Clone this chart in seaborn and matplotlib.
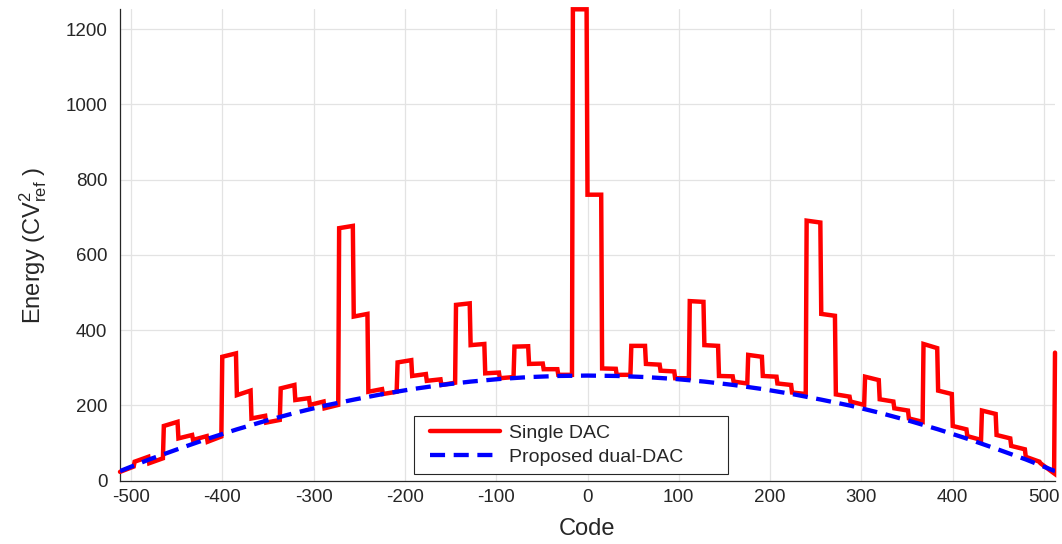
import numpy as np
import pandas as pd
import matplotlib
matplotlib.use("Agg")
import matplotlib.pyplot as plt
from matplotlib.lines import Line2D
from matplotlib.legend_handler import HandlerLine2D
import seaborn as sns

# Single-DAC switching energy: one level per 16-code segment (value at the
# first and at the last code of each segment), from code -512 up to 511.
single_seg_first = [23, 50, 46, 145, 112, 108, 103, 329, 227, 165, 154, 245, 214, 201, 192, 671,
                    436, 236, 230, 314, 278, 265, 254, 467, 360, 285, 272, 356, 310, 296, 281, 1253,
                    760, 298, 281, 358, 310, 292, 272, 477, 360, 278, 263, 334, 278, 258, 234, 691,
                    443, 229, 210, 276, 216, 192, 165, 363, 239, 145, 118, 186, 121, 92, 63, 46]
single_seg_last = [37, 63, 59, 156, 121, 118, 117, 338, 239, 172, 161, 254, 219, 210, 201, 677,
                   443, 243, 236, 320, 283, 269, 260, 471, 363, 287, 275, 357, 311, 296, 281, 1253,
                   760, 297, 281, 358, 308, 290, 272, 475, 358, 277, 258, 329, 276, 254, 230, 686,
                   438, 223, 201, 267, 210, 186, 156, 352, 230, 136, 108, 177, 112, 83, 50, 19]
single_last_code_energy = 340  # code +512

# Proposed dual-DAC energy, sampled every 32 codes from -512 to 512
dual_energy = [25, 56, 84, 111, 136, 159, 180, 199, 215, 230, 243, 254, 263, 270, 275, 278, 279,
               278, 275, 270, 263, 254, 243, 230, 215, 199, 180, 159, 136, 111, 84, 56, 25]

x_ticks = list(range(-500, 501, 100))
y_ticks = list(range(0, 1201, 200))

# ---- build tidy frames -------------------------------------------------
seg_start = -512 + 16 * np.arange(len(single_seg_first))
single_codes = np.column_stack([seg_start, seg_start + 15]).ravel()
single_vals = np.column_stack([single_seg_first, single_seg_last]).ravel()
single_df = pd.DataFrame({
    "code": np.append(single_codes, 512),
    "energy": np.append(single_vals, single_last_code_energy),
})
dual_df = pd.DataFrame({
    "code": np.linspace(-512, 512, len(dual_energy)),
    "energy": dual_energy,
})

# ---- style --------------------------------------------------------------
sns.set_theme(style="whitegrid")
plt.rcParams["font.family"] = ["Liberation Sans", "DejaVu Sans"]
plt.rcParams["mathtext.fontset"] = "custom"
plt.rcParams["mathtext.rm"] = "Liberation Sans"
plt.rcParams["mathtext.it"] = "Liberation Sans:italic"
plt.rcParams["axes.unicode_minus"] = False

ink = "#262626"

fig = plt.figure(figsize=(10.62, 5.44), dpi=100)
ax = fig.add_axes([120 / 1062, 1 - 480.5 / 544, 935 / 1062, 471.2 / 544])

sns.lineplot(data=single_df, x="code", y="energy", ax=ax, sort=False, estimator=None,
             color="#ff0000", linewidth=3.2, solid_joinstyle="miter",
             label="Single DAC", clip_on=False, zorder=3)
sns.lineplot(data=dual_df, x="code", y="energy", ax=ax, sort=False, estimator=None,
             color="#0000ff", linewidth=3.1, linestyle=(0, (3.5, 2.0)),
             label="Proposed dual-DAC", zorder=4)

ax.set_xlim(-512, 512)
ax.set_ylim(0, 1253)
ax.set_xticks(x_ticks)
ax.set_yticks(y_ticks)

ax.grid(True, color="#e3e3e3", linewidth=0.9)
for side in ("top", "right"):
    ax.spines[side].set_visible(False)
for side in ("left", "bottom"):
    ax.spines[side].set_color(ink)
    ax.spines[side].set_linewidth(0.9)
ax.tick_params(direction="in", length=5, width=0.9, colors=ink, labelsize=13.5)
ax.tick_params(axis="x", pad=6)
ax.tick_params(axis="y", pad=9)

ax.set_xlabel("Code", fontsize=17, color=ink, labelpad=9)
ax.set_ylabel(r"Energy (CV$^2_{\rm ref}$ )", fontsize=17, color=ink, labelpad=12)

leg = ax.legend(loc="lower left", bbox_to_anchor=(0.3144, 0.0138, 0.3358, 0.129),
                mode="expand", borderaxespad=0, fontsize=14, frameon=True,
                fancybox=False, framealpha=1, edgecolor=ink,
                handlelength=4.05, handletextpad=0.45, borderpad=0.4, labelspacing=0.35,
                handler_map={Line2D: HandlerLine2D(xpad=0.45)})
leg.get_frame().set_linewidth(0.8)
for t in leg.get_texts():
    t.set_color(ink)

fig.savefig("out.png", dpi=100)
